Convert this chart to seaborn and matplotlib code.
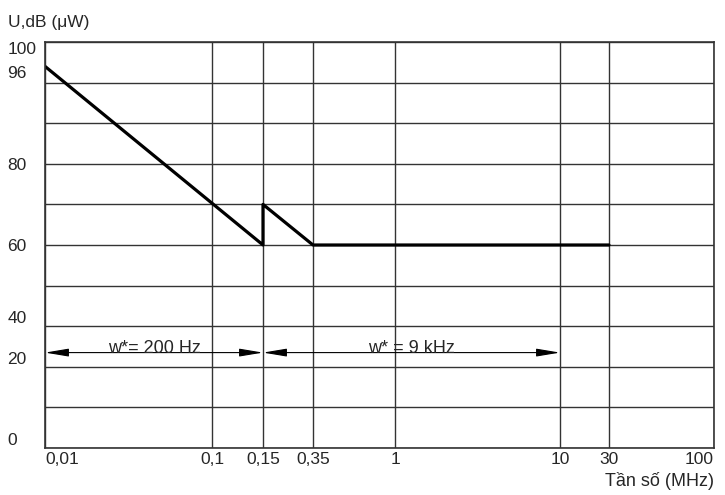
import numpy as np
import matplotlib.pyplot as plt
import seaborn as sns

# limit curve (MHz, dB(uW))
freq_mhz = [0.01, 0.15, 0.15, 0.35, 30]
level_db = [96, 60, 70, 60, 60]

x_ticks = [0.01, 0.1, 0.15, 0.35, 1, 10, 30, 100]
x_labels = ['0,01', '0,1', '0,15', '0,35', '1', '10', '30', '100']
y_ticks = [0, 20, 40, 60, 80, 96, 100]
y_labels = ['0', '20', '40', '60', '80', '96', '100']

# measuring bandwidth bands
band_start = [0.01, 0.15]
band_end = [0.15, 10]
band_text = ['w*= 200 Hz', 'w* = 9 kHz']
band_level = 27

# the printed chart is schematic: ticks are not evenly log spaced,
# so map values onto the drawn grid piecewise
x_anchor_pos = [0, 167, 218, 268, 350, 515, 564, 669]
y_anchor_val = [0, 20, 40, 60, 70, 80, 100]
y_anchor_pos = [0, 2, 3, 5, 6, 7, 10]

log_anchor = np.log10(x_ticks)


def x_fwd(x):
    x = np.clip(np.asarray(x, dtype=float), 1e-6, None)
    return np.interp(np.log10(x), log_anchor, x_anchor_pos)


def x_inv(p):
    return 10 ** np.interp(p, x_anchor_pos, log_anchor)


def y_fwd(y):
    return np.interp(y, y_anchor_val, y_anchor_pos)


def y_inv(p):
    return np.interp(p, y_anchor_pos, y_anchor_val)


sns.set_style('white')
plt.rcParams['font.family'] = ['Liberation Sans', 'DejaVu Sans']
fs = 12.5

fig = plt.figure(figsize=(7.25, 4.95), dpi=100)
ax = fig.add_axes([45 / 725, 47 / 495, 669 / 725, 406 / 495])
ax.set_xscale('function', functions=(x_fwd, x_inv))
ax.set_yscale('function', functions=(y_fwd, y_inv))

sns.lineplot(x=freq_mhz, y=level_db, sort=False, estimator=None,
             color='black', linewidth=2.3, ax=ax)

ax.set_xlim(0.01, 100)
ax.set_ylim(0, 100)

ax.set_xticks(x_ticks)
ax.set_xticklabels(x_labels, fontsize=fs)
ax.set_yticks(y_ticks)
ax.set_yticklabels(y_labels, fontsize=fs)
ax.set_yticks(y_inv(np.arange(11)), minor=True)
ax.yaxis.remove_overlapping_locs = False
ax.tick_params(axis='both', which='both', length=0)
ax.tick_params(axis='x', pad=3)
ax.tick_params(axis='y', pad=27)
for lab, val in zip(ax.get_yticklabels(), y_ticks):
    lab.set_horizontalalignment('left')
    if val <= 40:
        lab.set_verticalalignment('bottom')
    elif val >= 96:
        lab.set_verticalalignment('top')
labs = ax.get_xticklabels()
labs[0].set_horizontalalignment('left')
labs[-1].set_horizontalalignment('right')

ax.grid(False)
ax.grid(True, axis='x', which='major', color='#333333', linewidth=1.0)
ax.grid(True, axis='y', which='minor', color='#333333', linewidth=1.0)
for s in ax.spines.values():
    s.set_color('#333333')
    s.set_linewidth(1.2)

for x0, x1, txt in zip(band_start, band_end, band_text):
    ax.annotate('', xy=(x0, band_level), xytext=(x1, band_level),
                arrowprops=dict(arrowstyle='<|-|>,head_length=1.2,head_width=0.2',
                                color='black', lw=0.8, shrinkA=0, shrinkB=0,
                                mutation_scale=12))
    mid = x_inv((x_fwd(x0) + x_fwd(x1)) / 2)
    ax.text(mid, band_level, txt, ha='center', va='baseline', fontsize=fs + 0.5)

fig.text(8 / 725, 1 - 22 / 495, 'U,dB (\u03bcW)', fontsize=fs, va='center', ha='left')
fig.text(714 / 725, 1 - 481 / 495, 'T\u1ea7n s\u1ed1 (MHz)', fontsize=fs + 0.5,
         va='center', ha='right')

fig.savefig('out.png', dpi=100, facecolor='white')
